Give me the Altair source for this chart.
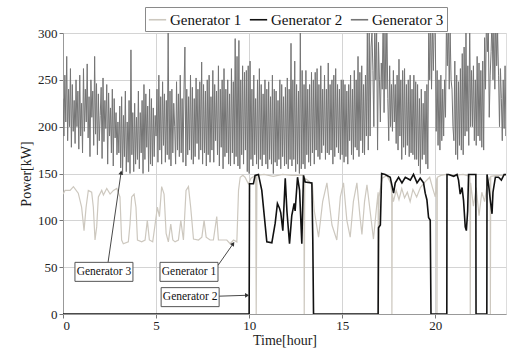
import math
import altair as alt
import pandas as pd

# ---------------- data ----------------
series_names = ["Generator 1", "Generator 2", "Generator 3"]
series_colors = ["#cdc8bf", "#111111", "#757575"]

# Generator 3: sampled every 0.05 h from 0 to 24 h (one row per hour)
gen3_power = [
    230, 190, 255, 205, 275, 185, 240, 200, 262, 178, 245, 195, 228, 182, 250, 200, 238, 176, 255, 190,
    225, 172, 262, 195, 240, 205, 267, 188, 232, 168, 250, 210, 238, 180, 275, 192, 246, 170, 235, 185,
    212, 242, 166, 252, 184, 228, 198, 245, 160, 236, 190, 220, 172, 240, 158, 230, 188, 215, 170, 205,
    172, 222, 156, 232, 150, 212, 168, 238, 152, 205, 162, 228, 150, 282, 170, 215, 152, 225, 160, 210,
    165, 238, 155, 215, 172, 228, 150, 245, 165, 235, 178, 222, 152, 240, 160, 230, 158, 220, 168, 212,
    190, 240, 162, 255, 175, 232, 160, 248, 180, 235, 162, 228, 170, 300, 165, 238, 158, 240, 172, 225,
    200, 160, 248, 175, 235, 168, 255, 172, 230, 162, 240, 285, 158, 240, 170, 232, 175, 255, 165, 242,
    160, 230, 168, 252, 182, 240, 165, 248, 175, 269, 160, 245, 172, 238, 158, 250, 170, 255, 162, 232,
    175, 260, 162, 245, 185, 238, 170, 265, 158, 240, 178, 250, 155, 262, 168, 240, 172, 250, 160, 235,
    158, 262, 172, 248, 160, 294, 168, 275, 158, 292, 155, 250, 170, 265, 160, 258, 175, 260, 152, 265,
    150, 270, 165, 240, 158, 255, 170, 230, 160, 250, 155, 262, 165, 245, 158, 235, 170, 250, 160, 240,
    155, 248, 165, 232, 160, 255, 150, 240, 162, 238, 158, 228, 165, 250, 155, 245, 168, 232, 158, 242,
    160, 252, 155, 240, 165, 289, 158, 250, 165, 270, 152, 245, 160, 238, 150, 300, 155, 260, 160, 245,
    155, 260, 170, 240, 162, 245, 158, 258, 172, 250, 160, 258, 175, 262, 168, 245, 165, 265, 172, 240,
    180, 255, 165, 240, 172, 268, 170, 245, 175, 250, 160, 255, 168, 262, 178, 245, 172, 240, 165, 250,
    170, 250, 162, 245, 168, 238, 160, 245, 185, 255, 170, 240, 165, 260, 178, 250, 175, 275, 168, 258,
    185, 265, 172, 245, 170, 255, 190, 300, 175, 310, 190, 285, 300, 260, 200, 318, 250, 300, 175, 290,
    250, 205, 268, 240, 320, 215, 300, 240, 315, 230, 185, 265, 200, 245, 195, 260, 205, 245, 182, 255,
    175, 272, 190, 250, 165, 260, 178, 262, 170, 245, 180, 250, 168, 255, 172, 240, 170, 255, 165, 248,
    165, 245, 158, 230, 150, 240, 165, 225, 170, 238, 160, 245, 155, 315, 250, 320, 240, 310, 260, 320,
    300, 195, 260, 180, 250, 175, 255, 185, 240, 190, 250, 210, 310, 265, 320, 240, 300, 250, 240, 200,
    185, 270, 170, 255, 165, 248, 180, 262, 175, 278, 170, 285, 190, 300, 195, 265, 180, 310, 200, 260,
    200, 265, 185, 250, 180, 275, 190, 268, 185, 260, 178, 270, 175, 295, 240, 320, 280, 310, 210, 255,
    280, 320, 250, 310, 240, 330, 265, 300, 255, 200, 262, 230, 185, 250, 198, 265, 190, 240, 200, 255,
    240,
]
gen3_time = [round(i * 0.05, 2) for i in range(len(gen3_power))]

gen1_time = [
    0.0, 0.11, 0.38, 0.56, 0.82, 1.00, 1.13, 1.24, 1.36, 1.54, 1.63, 1.72, 1.81, 1.90,
    2.08, 2.17, 2.35, 2.53, 2.71, 2.89, 3.06, 3.15, 3.24, 3.51, 3.60, 3.69, 3.82, 3.92,
    4.00, 4.23, 4.41, 4.53, 4.64, 4.82, 4.95, 5.07, 5.18, 5.30, 5.43, 5.54, 5.66, 5.79,
    5.90, 6.02, 6.20, 6.33, 6.47, 6.61, 6.74, 6.86, 7.01, 7.28, 7.46, 7.58, 7.69, 7.90,
    8.08, 8.26, 8.35, 8.53, 8.80, 8.98, 9.16, 9.34, 9.43, 9.52, 9.66, 9.78, 9.96, 10.10,
    10.35, 10.38, 10.42, 10.80, 11.30, 11.80, 12.30, 12.94, 12.96, 12.99, 13.20, 13.40,
    13.50, 13.73, 13.95, 14.18, 14.45, 14.71, 14.90, 15.07, 15.25, 15.43, 15.60, 15.79,
    15.95, 16.06, 16.20, 16.33, 16.50, 16.68, 16.85, 16.93, 16.95, 16.98, 17.15, 17.40,
    17.60, 17.66, 17.67, 17.69, 17.75, 17.90, 18.05, 18.20, 18.35, 18.50, 18.65, 18.80,
    19.00, 19.20, 19.40, 19.50, 19.70, 19.85, 20.00, 20.08, 20.09, 20.11, 20.30, 20.60,
    21.00, 21.50, 21.86, 21.88, 21.90, 22.05, 22.20, 22.35, 22.50, 22.65, 22.80, 22.95,
    22.96, 22.98, 23.30, 24.00,
]
gen1_power = [
    128, 132, 132, 136, 129, 114, 89, 114, 132, 130, 114, 79, 93, 125,
    132, 127, 134, 128, 132, 134, 125, 79, 75, 77, 96, 125, 128, 114,
    79, 77, 79, 100, 79, 77, 96, 114, 104, 136, 128, 86, 77, 96,
    79, 77, 79, 100, 79, 132, 136, 114, 80, 79, 82, 100, 82, 79,
    79, 104, 79, 79, 79, 75, 79, 77, 132, 146, 148, 146, 139, 145,
    148, 0, 148, 149, 147, 149, 148, 148, 0, 145, 142, 138,
    110, 82, 120, 140, 95, 79, 125, 140, 100, 82, 120, 140,
    105, 85, 120, 138, 110, 80, 115, 130, 0, 125, 145, 148,
    140, 130, 0, 128, 120, 132, 122, 134, 124, 130, 120, 133,
    125, 135, 140, 142, 146, 135, 125, 145, 0, 146, 148, 149,
    148, 149, 147, 0, 140, 115, 135, 105, 130, 120, 140, 146,
    0, 147, 148, 148,
]

gen2_time = [
    0.0, 10.00, 10.02, 10.23, 10.32, 10.50, 10.68, 10.95, 11.22, 11.40, 11.52, 11.63,
    11.70, 11.81, 11.94, 12.03, 12.17, 12.29, 12.42, 12.47, 12.60, 12.71, 12.83, 12.92,
    13.01, 13.37, 13.42, 13.46, 16.93, 16.95, 17.05, 17.12, 17.31, 17.58, 17.76, 17.85,
    18.03, 18.21, 18.39, 18.66, 18.83, 19.02, 19.19, 19.37, 19.46, 19.55, 19.64, 19.73,
    19.77, 20.62, 20.63, 20.72, 20.99, 21.17, 21.25, 21.34, 21.44, 21.52, 21.61, 21.67,
    21.74, 21.79, 21.88, 22.18, 22.19, 22.77, 22.78, 22.87, 22.96, 23.05, 23.10, 23.23,
    23.40, 23.55, 23.70, 24.00,
]
gen2_power = [
    0, 0, 139, 139, 148, 149, 132, 77, 76, 97, 118, 113,
    108, 89, 145, 110, 75, 105, 118, 110, 146, 132, 75, 148,
    141, 140, 79, 0, 0, 92, 95, 150, 149, 146, 129, 140,
    146, 140, 146, 143, 149, 140, 145, 140, 129, 122, 103, 100,
    0, 0, 149, 149, 147, 149, 143, 128, 135, 121, 93, 89,
    110, 149, 149, 149, 0, 0, 149, 137, 121, 107, 130, 146,
    146, 143, 149, 149,
]

# annotations: label, label centre, arrow start, arrow tip (data units)
ann_labels = ["Generator 3", "Generator 1", "Generator 2"]
ann_t = [2.20, 6.77, 6.83]
ann_p = [45, 45, 18]
arrow_from_t = [2.42, 8.33, 8.33]
arrow_from_p = [55, 52, 19]
arrow_to_t = [3.12, 9.14, 9.89]
arrow_to_p = [151, 75, 20]

# ---------------- layout ----------------
X_MAX = 23.8
W, H = 443, 281
PX_T = W / X_MAX
PX_P = H / 300.0
SERIF = "Liberation Serif"

df1 = pd.DataFrame({"t": gen1_time, "p": gen1_power, "s": "Generator 1"})
df2 = pd.DataFrame({"t": gen2_time, "p": gen2_power, "s": "Generator 2"})
df3 = pd.DataFrame({"t": gen3_time, "p": gen3_power, "s": "Generator 3"})

xs = alt.Scale(domain=[0, X_MAX], nice=False, zero=False)
ys = alt.Scale(domain=[0, 300], nice=False)

x_enc = alt.X(
    "t:Q", scale=xs, title="Time[hour]",
    axis=alt.Axis(values=[0, 5, 10, 15, 20], format="d", grid=True, gridColor="#d4d4d4",
                  labelFont=SERIF, labelFontSize=13, labelColor="#222", titleFont=SERIF,
                  titleFontSize=14, titleFontWeight="normal", titleColor="#222",
                  tickColor="#777", tickSize=4, domainColor="#999", titlePadding=1,
                  labelPadding=1),
)
y_enc = alt.Y(
    "p:Q", scale=ys, title="Power[kW]",
    axis=alt.Axis(values=[0, 50, 100, 150, 200, 250, 300], grid=True, gridColor="#d4d4d4",
                  labelFont=SERIF, labelFontSize=13, labelColor="#222", titleFont=SERIF,
                  titleFontSize=14, titleFontWeight="normal", titleColor="#222",
                  tickColor="#777", tickSize=4, domainColor="#999", titlePadding=4,
                  labelPadding=2),
)
color = alt.Color(
    "s:N",
    scale=alt.Scale(domain=series_names, range=series_colors),
    legend=alt.Legend(
        title=None, orient="none", direction="horizontal", legendX=82, legendY=-26,
        strokeColor="#8a8a8a", fillColor="white", padding=3, labelFont=SERIF,
        labelFontSize=15, labelColor="#111", symbolType="stroke", symbolSize=300,
        symbolStrokeWidth=1.6, columnPadding=4, labelOffset=3,
    ),
)

l3 = alt.Chart(df3).mark_line(strokeWidth=1, clip=True).encode(x=x_enc, y=y_enc, color=color)
l1 = alt.Chart(df1).mark_line(strokeWidth=1.2, clip=True).encode(x="t:Q", y="p:Q", color=color)
l2 = alt.Chart(df2).mark_line(strokeWidth=1.6, clip=True).encode(x="t:Q", y="p:Q", color=color)

# annotation boxes and arrows
half_w, half_h = 29 / PX_T, 9.5 / PX_P
angles = []
for ft, fp, tt, tp in zip(arrow_from_t, arrow_from_p, arrow_to_t, arrow_to_p):
    dx = (tt - ft) * PX_T
    dy = (tp - fp) * PX_P
    angles.append(math.degrees(math.atan2(dx, dy)) % 360)

ann = pd.DataFrame({
    "label": ann_labels, "t": ann_t, "p": ann_p,
    "bx0": [v - half_w for v in ann_t], "bx1": [v + half_w for v in ann_t],
    "by0": [v - half_h for v in ann_p], "by1": [v + half_h for v in ann_p],
    "ft": arrow_from_t, "fp": arrow_from_p, "tt": arrow_to_t, "tp": arrow_to_p,
    "ang": angles,
})

arrows = alt.Chart(ann).mark_rule(color="#333", strokeWidth=0.9).encode(
    x="ft:Q", y="fp:Q", x2="tt:Q", y2="tp:Q")
heads = alt.Chart(ann).mark_point(shape="triangle-up", filled=True, size=22, color="#333",
                                  opacity=1).encode(
    x="tt:Q", y="tp:Q", angle=alt.Angle("ang:Q", scale=None))
boxes = alt.Chart(ann).mark_rect(fill="white", stroke="#555", strokeWidth=1).encode(
    x="bx0:Q", x2="bx1:Q", y="by0:Q", y2="by1:Q")
texts = alt.Chart(ann).mark_text(font=SERIF, fontSize=11.5, color="#111").encode(
    x="t:Q", y="p:Q", text="label:N")

chart = alt.layer(l3, l1, l2, arrows, heads, boxes, texts).properties(
    width=W, height=H,
    padding={"left": 63, "top": 33, "right": 1, "bottom": 36},
    autosize=alt.AutoSizeParams(type="none"),
).configure_view(stroke="#999", strokeWidth=1).configure(background="white")

chart.save("out.html", embed_options={"renderer": "svg", "actions": False})
